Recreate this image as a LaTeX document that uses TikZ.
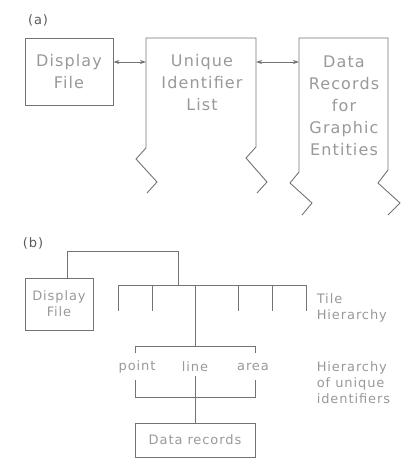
\documentclass[tikz,border=0pt]{standalone}
\usepackage{fontspec}
\setmainfont{DejaVu Sans}[LetterSpace=7]
\usetikzlibrary{arrows.meta}
\definecolor{linegray}{gray}{0.45}
\definecolor{textgray}{gray}{0.6}
\tikzset{
  box/.style={draw=linegray, inner sep=0pt, align=center},
  bigtxt/.style={text=textgray, font=\fontsize{16}{22}\selectfont, align=center},
  smalltxt/.style={text=textgray, font=\fontsize{13}{16}\selectfont},
  tag/.style={text=black!65, font=\fontsize{13}{15}\selectfont},
  link/.style={draw=linegray, {Stealth[length=6pt,width=4pt]}-{Stealth[length=6pt,width=4pt]}}
}
\begin{document}
\begin{tikzpicture}[x=1pt,y=-1pt,line width=0.9pt]
\useasboundingbox (0,0) rectangle (413,469);

\node[tag] (a) at (38,20) {(a)};
\node[box,bigtxt,minimum width=88pt,minimum height=67pt] (dfa) at (69,71.5) {Display\\File};
\draw[linegray] (147,193) -- (157,182) -- (136,159) -- (146,148) -- (146,38) -- (256,38) -- (256,147) -- (246,158) -- (267,182) -- (257,193);
\node[bigtxt] (uil) at (202,83) {Unique\\Identifier\\List};
\coordinate (uilw) at (146,62);
\coordinate (uile) at (256,62);
\draw[linegray] (302,215) -- (312,203) -- (290,183) -- (299,172) -- (299,38) -- (388,38) -- (388,170) -- (378,183) -- (400,203) -- (388,215);
\node[bigtxt] (drg) at (344,106) {Data\\Records\\for\\Graphic\\Entities};
\coordinate (drgw) at (299,62);
\draw[link] (dfa.east |- uilw) -- (uilw);
\draw[link] (uile) -- (drgw);

\node[tag] (b) at (33,243) {(b)};
\node[box,smalltxt,minimum width=68pt,minimum height=52pt] (dfb) at (59,304) {Display\\File};
\coordinate (hub) at (178,285);
\draw[linegray] ([xshift=8pt]dfb.north) -- ++(0,-26) -| (hub);
\coordinate (tmid) at (195,285);
\coordinate (umid) at (195,346);
\draw[linegray] (118,285) -- (306,285);
\foreach \x in {118,152,238,272,306}
  \draw[linegray] (\x,285) -- (\x,311);
\draw[linegray] (tmid) -- (umid);
\node[smalltxt,anchor=west,align=left] (tile) at (313,308) {Tile\\Hierarchy};

\draw[linegray] (135,353) -- (135,346) -- (255,346) -- (255,353);
\node[smalltxt] (pt) at (137,367) {point};
\node[smalltxt] (ln) at (195,367) {line};
\node[smalltxt] (ar) at (253,367) {area};
\draw[linegray] (135,380) -- (135,397) -- (255,397) -- (255,380);
\node[box,smalltxt,minimum width=120pt,minimum height=34pt] (drec) at (195,440) {Data records};
\draw[linegray] (ln.south) -- (drec.north);
\node[smalltxt,anchor=west,align=left] (huid) at (313,383) {Hierarchy\\of unique\\identifiers};
\end{tikzpicture}
\end{document}
